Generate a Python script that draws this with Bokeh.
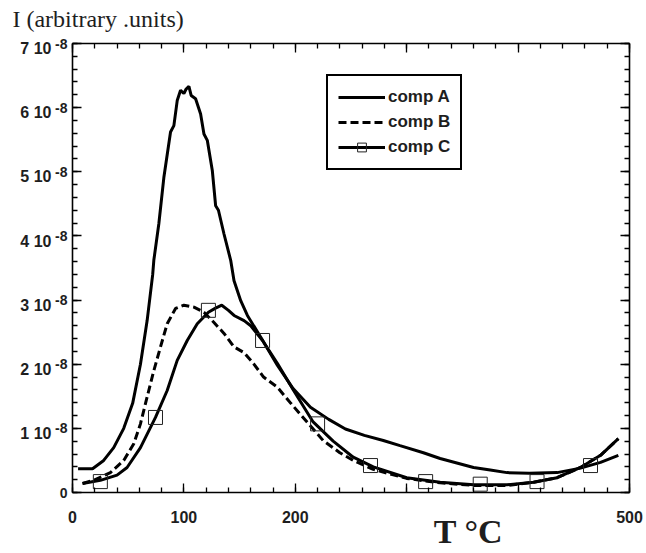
import numpy as np
from bokeh.plotting import figure
from bokeh.models import Range1d, LinearAxis, FixedTicker, Legend, LegendItem
from bokeh.embed import file_html
from bokeh.resources import INLINE

# ---- data (intensity in units of 1e-8, temperature in °C) ----
temp_a = [5, 18, 28, 37, 46, 54, 61, 67, 72, 73, 77.5, 82, 88, 91, 94, 97, 100, 102,
          104.5, 106.5, 110.5, 115, 118, 121, 125.5, 128.5, 131, 136, 142, 145, 151,
          157, 169, 184, 198, 213.6, 230, 245, 262, 279, 294, 315, 330, 345, 360, 375,
          390, 410, 435, 456, 474, 490]
comp_a = [0.37, 0.37, 0.50, 0.70, 1.00, 1.39, 2.00, 2.68, 3.40, 3.62, 4.19, 4.91, 5.62,
          5.72, 6.11, 6.27, 6.22, 6.29, 6.33, 6.19, 6.14, 5.90, 5.59, 5.49, 5.02, 4.47,
          4.40, 4.03, 3.62, 3.30, 2.99, 2.76, 2.42, 1.98, 1.62, 1.33, 1.14, 0.99, 0.89,
          0.81, 0.73, 0.62, 0.53, 0.46, 0.39, 0.35, 0.31, 0.30, 0.31, 0.38, 0.47, 0.58]

temp_b = [9, 19, 34, 46, 55, 61, 67, 73, 79, 85, 92.5, 100, 109, 118, 127, 136, 145, 154,
          162.5, 171.5, 184, 196, 207, 225, 240, 252, 270, 300, 330, 360, 390, 414, 435,
          456, 474, 490]
comp_b = [0.14, 0.19, 0.31, 0.50, 0.76, 1.07, 1.49, 1.90, 2.27, 2.63, 2.87, 2.92, 2.89,
          2.81, 2.65, 2.48, 2.27, 2.18, 2.01, 1.80, 1.64, 1.39, 1.17, 0.81, 0.62, 0.50,
          0.36, 0.22, 0.15, 0.11, 0.11, 0.16, 0.23, 0.39, 0.58, 0.84]

temp_c = [9, 25, 40, 49, 61, 74.5, 85, 94, 103, 112, 122, 128, 134, 140, 145, 154, 160,
          170.6, 184, 198.5, 216, 234, 252, 270, 300, 330, 360, 390, 414, 435, 456, 474, 490]
comp_c = [0.14, 0.19, 0.27, 0.39, 0.70, 1.17, 1.59, 2.06, 2.37, 2.63, 2.81, 2.87, 2.92,
          2.84, 2.76, 2.68, 2.60, 2.37, 2.01, 1.59, 1.10, 0.80, 0.55, 0.40, 0.23, 0.16,
          0.12, 0.12, 0.16, 0.23, 0.39, 0.58, 0.84]

mark_temp_c = [25, 74.5, 122, 170.6, 220, 267.5, 317, 366, 417, 465]
mark_comp_c = [0.17, 1.17, 2.84, 2.37, 1.07, 0.42, 0.17, 0.13, 0.17, 0.42]

series_labels = ["comp A", "comp B", "comp C"]

x_ticks = [0, 100, 200, 300, 400, 500]
x_tick_labels = ["0", "100", "200", "", "", "500"]
x_minor = list(range(0, 501, 20))
y_ticks = [0, 1, 2, 3, 4, 5, 6, 7]
y_mantissas = ["0", "1 10", "2 10", "3 10", "4 10", "5 10", "6 10", "7 10"]
y_exponent = "-8"
y_minor = [round(v, 1) for v in np.arange(0, 7.01, 0.2)]

y_title = "I (arbitrary .units)"
y_title_at = 23        # x position (°C) where the title text is centred
x_title = "T °C"
x_title_at = 355.5     # x position (°C) where the axis title is centred
mantissa_drop = 0.08   # mantissa labels sit slightly below the exponent

# ---- figure ----
p = figure(width=646, height=553, output_backend="svg", toolbar_location=None,
           x_range=Range1d(0, 500), y_range=Range1d(0, 7),
           x_axis_location=None, y_axis_location=None,
           min_border_left=72, min_border_right=17, min_border_top=43, min_border_bottom=61,
           background_fill_color="white", border_fill_color="white")
p.outline_line_color = None
p.xgrid.visible = False
p.ygrid.visible = False

SANS = "Liberation Sans"
SERIF = "Liberation Serif"
INK = "#1e1e1e"


def frame_axis(ax):
    ax.axis_line_color = "black"
    ax.axis_line_width = 1.6
    ax.major_tick_in = 9
    ax.major_tick_out = 0
    ax.minor_tick_in = 5
    ax.minor_tick_out = 0
    ax.major_tick_line_color = "black"
    ax.minor_tick_line_color = "black"
    ax.major_tick_line_width = 1.3
    ax.minor_tick_line_width = 1.3
    ax.axis_label = None
    ax.major_label_text_color = INK


def label_axis(ax):
    ax.axis_line_color = None
    ax.major_tick_line_color = None
    ax.minor_tick_line_color = None
    ax.major_tick_in = 0
    ax.major_tick_out = 0
    ax.minor_tick_in = 0
    ax.minor_tick_out = 0
    ax.axis_label = None
    ax.major_label_text_color = INK


def silent(ax, ticks):
    ax.major_label_overrides = {t: "" for t in ticks}
    ax.major_label_text_font_size = "1px"
    ax.major_label_standoff = 0


# bottom: ticks + numeric labels, then the big axis title
bottom = LinearAxis(ticker=FixedTicker(ticks=x_ticks, minor_ticks=x_minor))
frame_axis(bottom)
bottom.major_label_overrides = {t: s for t, s in zip(x_ticks, x_tick_labels)}
bottom.major_label_text_font = SANS
bottom.major_label_text_font_style = "bold"
bottom.major_label_text_font_size = "16px"
bottom.major_label_standoff = 18
p.add_layout(bottom, "below")

bottom_title = LinearAxis(ticker=FixedTicker(ticks=[x_title_at], minor_ticks=[]))
label_axis(bottom_title)
bottom_title.major_label_overrides = {x_title_at: x_title}
bottom_title.major_label_text_font = SERIF
bottom_title.major_label_text_font_style = "bold"
bottom_title.major_label_text_font_size = "34px"
bottom_title.major_label_standoff = -13
p.add_layout(bottom_title, "below")

# top: ticks only, then the y quantity title
top = LinearAxis(ticker=FixedTicker(ticks=x_ticks, minor_ticks=x_minor))
frame_axis(top)
silent(top, x_ticks)
p.add_layout(top, "above")

top_title = LinearAxis(ticker=FixedTicker(ticks=[y_title_at], minor_ticks=[]))
label_axis(top_title)
top_title.major_label_overrides = {y_title_at: y_title}
top_title.major_label_text_font = SERIF
top_title.major_label_text_font_size = "24px"
top_title.major_label_standoff = 12
p.add_layout(top_title, "above")

# left: ticks with exponent labels, then the mantissas
left = LinearAxis(ticker=FixedTicker(ticks=y_ticks, minor_ticks=y_minor))
frame_axis(left)
left.major_label_overrides = {t: (m if m == "0" else y_exponent)
                              for t, m in zip(y_ticks, y_mantissas)}
left.major_label_text_font = SANS
left.major_label_text_font_style = "bold"
left.major_label_text_font_size = "14px"
left.major_label_standoff = 5
p.add_layout(left, "left")

mant_ticks = [round(t - mantissa_drop, 2) for t in y_ticks[1:]]
left_mant = LinearAxis(ticker=FixedTicker(ticks=mant_ticks, minor_ticks=[]))
label_axis(left_mant)
left_mant.major_label_overrides = {t: m for t, m in zip(mant_ticks, y_mantissas[1:])}
left_mant.major_label_text_font = SANS
left_mant.major_label_text_font_style = "bold"
left_mant.major_label_text_font_size = "16px"
left_mant.major_label_standoff = 1
p.add_layout(left_mant, "left")

# right: ticks only
right = LinearAxis(ticker=FixedTicker(ticks=y_ticks, minor_ticks=y_minor))
frame_axis(right)
silent(right, y_ticks)
p.add_layout(right, "right")

# ---- curves ----
ra = p.line(temp_a, comp_a, line_color="black", line_width=3)
rb = p.line(temp_b, comp_b, line_color="black", line_width=3, line_dash="8 4")
rc = p.line(temp_c, comp_c, line_color="black", line_width=3)
rcm = p.scatter(mark_temp_c, mark_comp_c, marker="square", size=14,
                fill_color=None, line_color="#222222", line_width=1)

legend = Legend(items=[LegendItem(label=series_labels[0], renderers=[ra]),
                       LegendItem(label=series_labels[1], renderers=[rb]),
                       LegendItem(label=series_labels[2], renderers=[rc, rcm])],
                location=(254, 322), margin=0, padding=10, spacing=3,
                glyph_width=47, glyph_height=22, label_height=22, label_standoff=3,
                border_line_color="black", border_line_width=2, border_line_alpha=1.0,
                label_text_font=SANS, label_text_font_style="bold",
                label_text_font_size="17px", label_text_color=INK,
                background_fill_color="white", background_fill_alpha=1.0)
p.add_layout(legend)

open("out.html", "w").write(file_html(p, INLINE))
